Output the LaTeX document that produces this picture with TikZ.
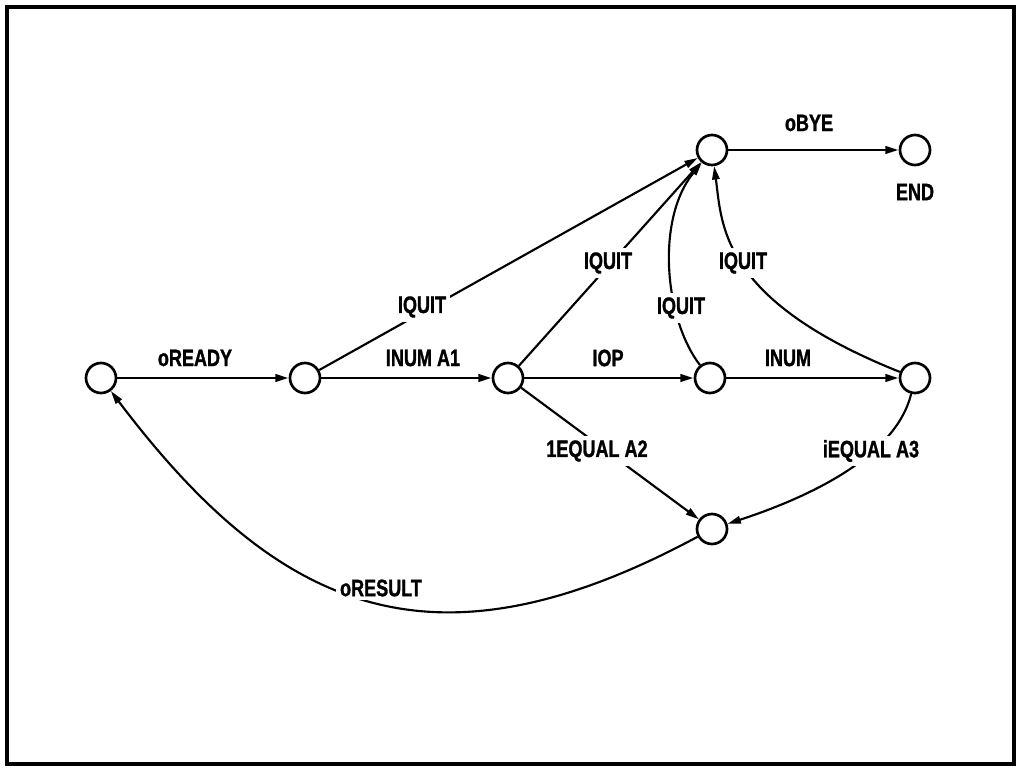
\documentclass[tikz,border=0pt]{standalone}
\usepackage{fontspec}
\setmainfont[FakeStretch=0.76, BoldFeatures={FakeBold=1.2}]{Liberation Sans}
\usetikzlibrary{arrows.meta}
\begin{document}
\begin{tikzpicture}[x=0.75pt,y=-0.75pt,
  state/.style={circle, draw, line width=2pt, minimum size=22.5pt, inner sep=0pt, fill=white},
  lbl/.style={font=\bfseries\fontsize{17.8}{20}\selectfont, inner sep=1.5pt},
  onl/.style={lbl, fill=white, inner sep=3pt},
  edge/.style={line width=2.1pt, -{Triangle[length=10pt,width=5.5pt]}},
  curv/.style={line width=1.6pt, -{Triangle[length=10pt,width=5.5pt]}}]
\useasboundingbox (0,0) rectangle (1020,767);
\draw[line width=3.5pt] (7,7) rectangle (1014,764);

\node[state] (s0) at (101,378) {};
\node[state] (s1) at (305,378) {};
\node[state] (s2) at (508,378) {};
\node[state] (s3) at (710,378) {};
\node[state] (s4) at (915,378) {};
\node[state] (s5) at (712,529) {};
\node[state] (q)  at (712,150) {};
\node[state] (e)  at (915,150) {};

\draw[edge] (s0) -- (s1);
\draw[edge] (s1) -- (s2);
\draw[edge] (s2) -- (s3);
\draw[edge] (s3) -- (s4);
\draw[edge] (q) -- (e);
\draw[curv] (s1) -- (q);
\draw[curv] (s2) -- (q);
\draw[curv] (s2) -- (s5);
\draw[curv] (s3) .. controls (665,320) and (655,220) .. (q);
\draw[curv] (s4) .. controls (720,300) and (722,225) .. (q);
\draw[curv] (s4) .. controls (895,460) and (800,500) .. (s5);
\draw[curv] (s5) .. controls (435,678) and (280,615) .. (s0);

\node[lbl] (lready) at (195,358) {oREADY};
\node[lbl] (lnuma) at (423,358) {INUM A1};
\node[lbl] (lop) at (608,358) {IOP};
\node[lbl] (lnum) at (788,358) {INUM};
\node[lbl] (lbye) at (809,123) {oBYE};
\node[lbl] (lend) at (915,192) {END};
\node[onl] (lq1) at (422,307) {IQUIT};
\node[onl] (lq2) at (608,263) {IQUIT};
\node[onl] (lq3) at (681,308) {IQUIT};
\node[onl] (lq4) at (743,263) {IQUIT};
\node[onl] (leq2) at (597,451) {1EQUAL A2};
\node[onl] (leq3) at (871,451) {iEQUAL A3};
\node[onl] (lres) at (381,588) {oRESULT};
\end{tikzpicture}
\end{document}
